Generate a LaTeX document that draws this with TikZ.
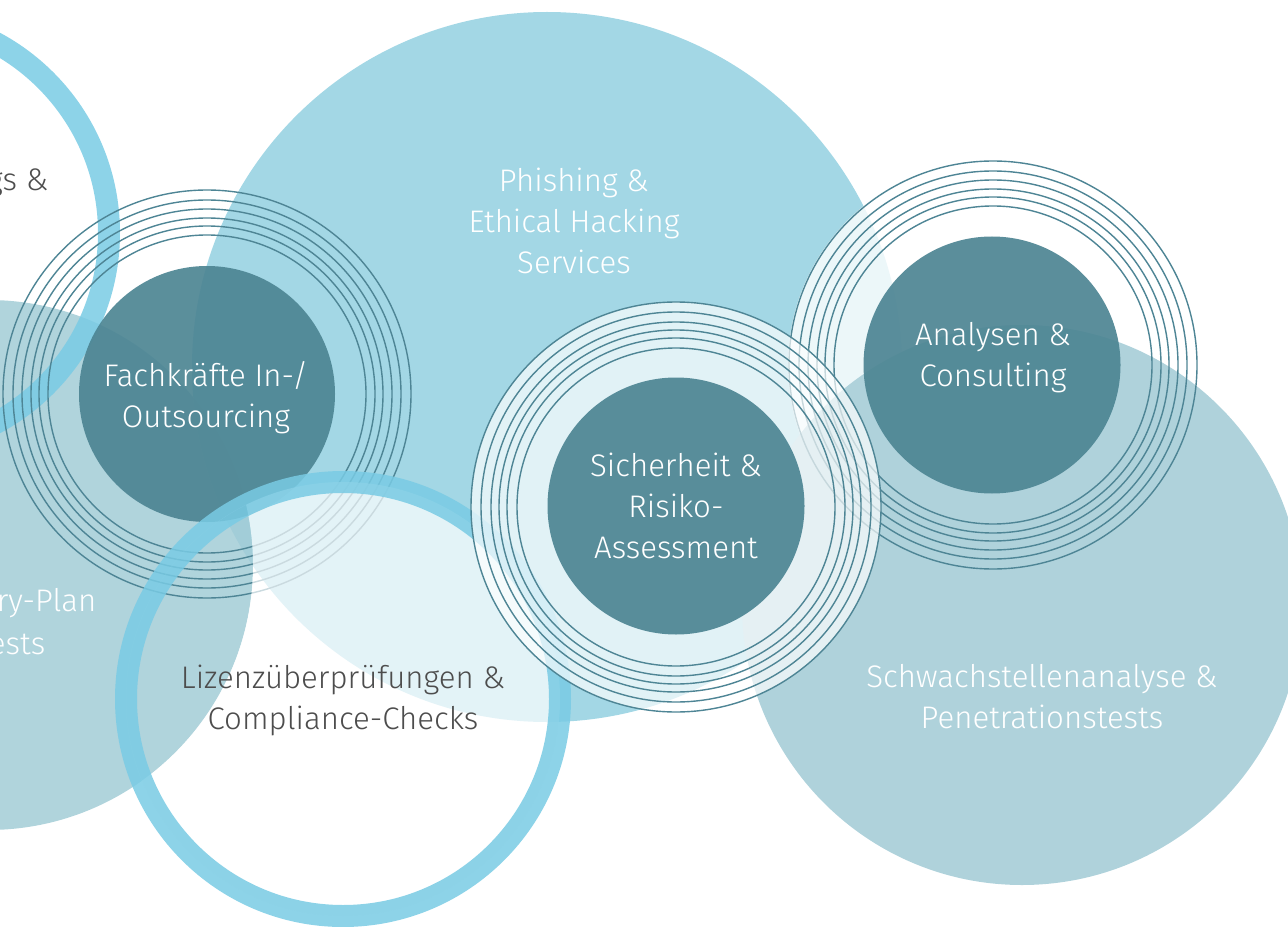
\documentclass[tikz,border=0pt]{standalone}
\usepackage{fontspec}
\setmainfont{Fira Sans Light}
\begin{document}
\begin{tikzpicture}[x=0.75pt,y=0.75pt,yscale=-1,xscale=1,
  phish/.style={fill={rgb, 255:red, 163; green, 215; blue, 229 }},
  recov/.style={fill={rgb, 255:red, 162; green, 204; blue, 214 },fill opacity=0.85},
  schwach/.style={fill={rgb, 255:red, 175; green, 210; blue, 219 }},
  bigring/.style={draw={rgb, 255:red, 121; green, 203; blue, 228 },draw opacity=0.85,line width=16.5pt},
  thinring/.style={draw={rgb, 255:red, 78; green, 133; blue, 149 },line width=1.05pt},
  core/.style={fill={rgb, 255:red, 77; green, 133; blue, 147 },fill opacity=0.92},
  veil/.style={fill=white,fill opacity=#1},
  lbl/.style={font=\fontsize{23.4}{30.75}\selectfont,align=center,text=white},
  greylbl/.style={lbl,text={rgb, 255:red, 77; green, 77; blue, 77 }}]
\useasboundingbox (0,0) rectangle (1288,927);
\clip (0,0) rectangle (1288,927);
%Shape: Circle [id:dp1]
\fill [phish] (547,367) circle (355);
%Shape: Circle [id:dp2]
\fill [veil=0.8] (993,365) circle (205);
%Shape: Circle [id:dp3]
\fill [recov] (-12,565) circle (265);
%Shape: Circle [id:dp4]
\draw [bigring] (-107,233) circle (216);
%Shape: Circle [id:dp5]
\foreach \r in {204,194,185,176,168,159}
  \draw [thinring] (207,394) circle (\r);
%Shape: Circle [id:dp6]
\fill [core] (207,394) circle (128);
%Shape: Circle [id:dp7]
\begin{scope}
\clip (343,699) circle (217);
\fill [veil=0.7,even odd rule] (343,699) circle (217) (-12,565) circle (265);
\end{scope}
%Shape: Circle [id:dp8]
\draw [bigring] (343,699) circle (217);
%Shape: Circle [id:dp9]
\fill [schwach] (1022,605) circle (280);
%Shape: Circle [id:dp10]
\foreach \r in {204,194,185,176,168,159}
  \draw [thinring] (993,365) circle (\r);
%Shape: Circle [id:dp11]
\fill [core] (992,365) circle (128.5);
%Shape: Circle [id:dp12]
\fill [veil=0.68] (676,507) circle (205);
%Shape: Circle [id:dp13]
\foreach \r in {205,195,185,177,169,159}
  \draw [thinring] (676,507) circle (\r);
%Shape: Circle [id:dp14]
\fill [core] (676,506) circle (128.5);

% labels
\node [greylbl,anchor=east] (train) at (53,182) {Trainings \&};
\node [lbl,anchor=east] (recovery) at (101,603) {Recovery-Plan};
\node [lbl,anchor=east] (tests) at (50,644) {Tests};
\node [lbl] (phishing) at (574,221) {Phishing \&\\Ethical Hacking\\Services};
\node [lbl] (fach) at (206,398) {Fachkräfte In-/\\Outsourcing};
\node [lbl] (sicher) at (676,506) {Sicherheit \&\\Risiko-\\Assessment};
\node [lbl] (analysen) at (993,358) {Analysen \&\\Consulting};
\node [greylbl] (lizenz) at (343,700) {Lizenzüberprüfungen \&\\Compliance-Checks};
\node [lbl] (schwachst) at (1042,697) {Schwachstellenanalyse \&\\Penetrationstests};
\end{tikzpicture}
\end{document}
